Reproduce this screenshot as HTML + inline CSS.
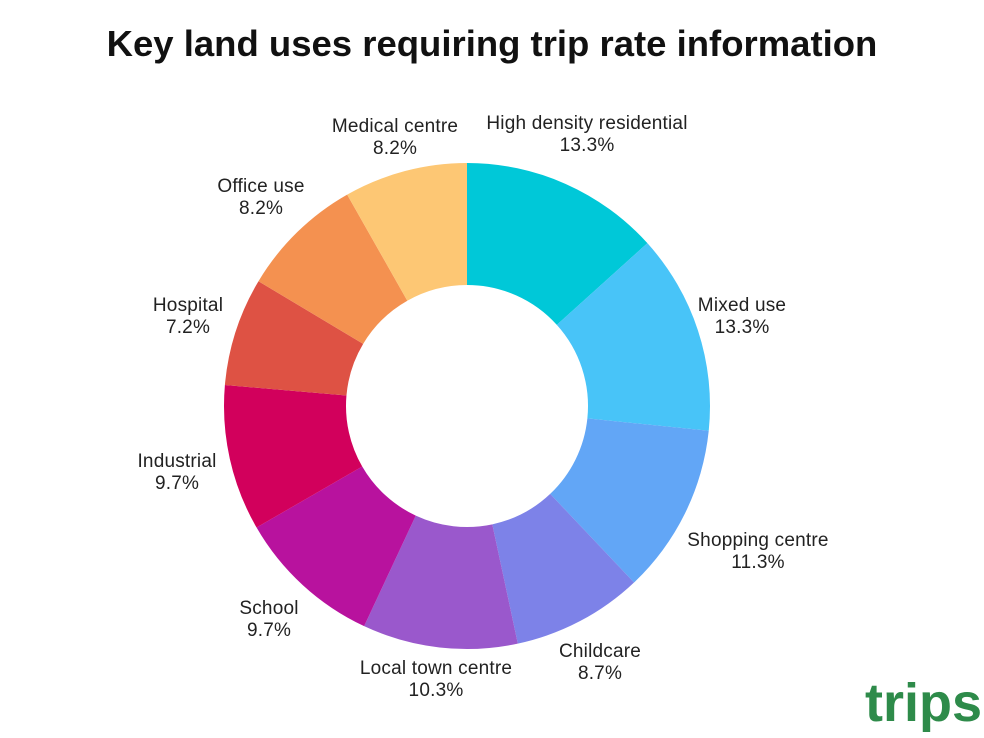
<!DOCTYPE html>
<html><head><meta charset="utf-8"><style>
body{margin:0;width:984px;height:738px;background:#fff;font-family:"Liberation Sans",sans-serif;position:relative;overflow:hidden}
.t{position:absolute;left:0;width:984px;top:23px;text-align:center;font-weight:bold;font-size:36.5px;color:#111}
.l{position:absolute;text-align:center;font-size:19px;line-height:22px;color:#222;transform:translateX(-50%);white-space:nowrap;letter-spacing:0.2px}
.logo{position:absolute;left:865px;top:672px;font-weight:bold;font-size:54px;color:#2e8b4a}
</style></head><body>
<div class="t">Key land uses requiring trip rate information</div>
<svg id="s" width="984" height="738" style="position:absolute;left:0;top:0"></svg>
<div class="l" style="left:395px;top:116px">Medical centre<br>8.2%</div>
<div class="l" style="left:587px;top:113px">High density residential<br>13.3%</div>
<div class="l" style="left:261px;top:176px">Office use<br>8.2%</div>
<div class="l" style="left:742px;top:295px">Mixed use<br>13.3%</div>
<div class="l" style="left:188px;top:295px">Hospital<br>7.2%</div>
<div class="l" style="left:177px;top:451px">Industrial<br>9.7%</div>
<div class="l" style="left:758px;top:530px">Shopping centre<br>11.3%</div>
<div class="l" style="left:269px;top:598px">School<br>9.7%</div>
<div class="l" style="left:600px;top:641px">Childcare<br>8.7%</div>
<div class="l" style="left:436px;top:658px">Local town centre<br>10.3%</div>
<div class="logo">trips</div>
<script>
var v=[13.3,13.3,11.3,8.7,10.3,9.7,9.7,7.2,8.2,8.2],c=["#00c8d8","#48c4f8","#62a6f6","#7d82e8","#9a58cc","#b8129e","#d2005c","#de5244","#f49150","#fdc774"];
var cx=467,cy=406,R=243,r=121,tot=99.9,a=0,h="";
function p(ang,rad){return [cx+rad*Math.sin(ang),cy-rad*Math.cos(ang)];}
for(var i=0;i<v.length;i++){var a0=a/tot*2*Math.PI;a+=v[i];var a1=a/tot*2*Math.PI;var lg=(a1-a0)>Math.PI?1:0;
var A=p(a0,R),B=p(a1,R),C=p(a1,r),D=p(a0,r);
h+='<path fill="'+c[i]+'" d="M'+A+' A'+R+','+R+' 0 '+lg+' 1 '+B+' L'+C+' A'+r+','+r+' 0 '+lg+' 0 '+D+'Z"/>';}
document.getElementById('s').innerHTML=h;
</script>
</body></html>
